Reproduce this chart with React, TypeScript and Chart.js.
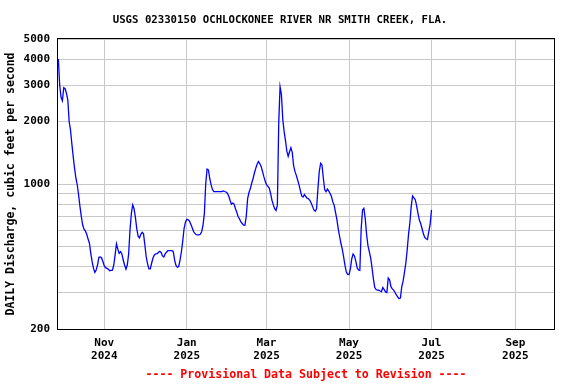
import { useEffect, useRef } from "react";
import { Chart, registerables } from "chart.js";

Chart.register(...registerables);

const TITLE = "USGS 02330150 OCHLOCKONEE RIVER NR SMITH CREEK, FLA.";
const Y_TITLE = "DAILY Discharge, cubic feet per second";
const FOOTER = "---- Provisional Data Subject to Revision ----";

// Day numbers are counted from 2024-11-01 (= 0). First value is 2024-09-28.
const FIRST_DAY = -34;
const dailyFlow = [
  4000, 3000, 2620, 2520, 2910, 2880, 2740, 2540, 2000, 1820,
  1560, 1355, 1190, 1066, 989, 885, 778, 696, 634, 605,
  594, 572, 543, 518, 463, 422, 392, 375, 385, 407,
  443, 445, 440, 422,
  403, 395, 392, 388, 382, 383, 384, 407, 455, 515,
  485, 463, 472, 460, 430, 407, 389, 407, 460, 600,
  720, 793, 760, 690, 610, 560, 550, 572, 585, 575,
  508,
  445, 412, 390, 390, 415, 440, 455, 460, 462, 468,
  474, 468, 450, 445, 460, 469, 477, 477, 477, 477,
  473, 430, 405, 397, 400, 430, 470, 530, 610, 655,
  676, 672, 662, 640, 615, 590, 578, 570, 568, 569,
  572, 589, 634, 720, 1000, 1180, 1170, 1060, 990, 940,
  918, 918, 918, 918, 918, 918, 920, 926, 920, 915,
  903, 875, 835, 800, 810, 800, 760, 730, 695, 680,
  656, 645, 633, 632, 700, 850, 910, 950, 1008, 1060,
  1130, 1190, 1245, 1282, 1255, 1215, 1150, 1085, 1030, 992,
  975, 955, 900, 835, 793, 760, 745, 790, 1960, 2946,
  2700, 2050, 1790, 1620, 1440, 1360, 1430, 1497, 1420, 1230,
  1150, 1100, 1045, 990, 930, 876, 866, 890, 870, 855,
  849, 835, 810, 780, 750, 740, 760, 950, 1150, 1259,
  1236, 1066, 940, 918, 946, 925, 900, 870, 820, 790,
  730, 675, 610, 560, 518, 485, 445, 405, 376, 367,
  366, 390, 435, 460, 450, 425, 395, 385, 383, 612,
  750, 764, 680, 570, 505, 472, 440, 395, 350, 318,
  310, 308, 308, 305, 303, 317, 310, 302, 300, 352,
  345, 320, 312, 308, 300, 292, 286, 280, 282, 320,
  340, 375, 415, 480, 570, 650, 780, 876, 857, 840,
  785, 722, 670, 645, 610, 575, 553, 545, 540, 590,
  640, 750,
];

const tickDays = [0, 61, 120, 181, 242, 304];
const tickMonths = ["Nov", "Jan", "Mar", "May", "Jul", "Sep"];
const tickYears = ["2024", "2025", "2025", "2025", "2025", "2025"];
const X_MIN = -34.25;
const X_MAX = 332.6;

const yGridValues = [200, 300, 400, 500, 600, 700, 800, 900, 1000, 2000, 3000, 4000, 5000];
const yLabelValues = [200, 1000, 2000, 3000, 4000, 5000];

const MONO = '"DejaVu Sans Mono", "Liberation Mono", monospace';

const textPlugin = {
  id: "usgsText",
  afterDraw(chart: any) {
    const { ctx, chartArea } = chart;
    ctx.save();
    // plot frame
    ctx.strokeStyle = "#000000";
    ctx.lineWidth = 1;
    ctx.strokeRect(
      Math.round(chartArea.left) - 0.5,
      Math.round(chartArea.top) - 0.5,
      Math.round(chartArea.right - chartArea.left) + 1,
      Math.round(chartArea.bottom - chartArea.top) + 1
    );
    ctx.textAlign = "center";
    ctx.textBaseline = "middle";
    ctx.fillStyle = "#000000";
    ctx.font = `bold 10.7px ${MONO}`;
    ctx.fillText(TITLE, 280, 20.5);
    ctx.fillStyle = "#ff0000";
    ctx.font = `bold 11.6px ${MONO}`;
    ctx.fillText(FOOTER, (chartArea.left + chartArea.right) / 2, 375);
    ctx.restore();
  },
};

export default function App() {
  const ref = useRef<HTMLCanvasElement | null>(null);

  useEffect(() => {
    document.body.style.margin = "0";
    const canvas = ref.current;
    if (!canvas) return;
    const points = dailyFlow.map((v, i) => ({ x: FIRST_DAY + i, y: v }));
    const chart = new Chart(canvas, {
      type: "line",
      data: {
        datasets: [
          {
            data: points,
            borderColor: "#0000ff",
            borderWidth: 1.3,
            pointRadius: 0,
            tension: 0,
            fill: false,
          },
        ],
      },
      options: {
        responsive: false,
        animation: false,
        maintainAspectRatio: false,
        layout: { padding: { top: 39, right: 22, left: 0, bottom: 0 } },
        plugins: {
          legend: { display: false },
          title: { display: false },
          tooltip: { enabled: false },
        },
        scales: {
          x: {
            type: "linear",
            min: X_MIN,
            max: X_MAX,
            afterBuildTicks: (scale: any) => {
              scale.ticks = tickDays.map((d) => ({ value: d }));
            },
            afterFit: (scale: any) => {
              scale.height = 55;
            },
            grid: { color: "#c8c8c8", lineWidth: 1, drawTicks: false },
            border: { display: false },
            ticks: {
              autoSkip: false,
              maxRotation: 0,
              minRotation: 0,
              padding: 7.7,
              color: "#000000",
              font: { family: MONO, size: 11, weight: "bold", lineHeight: 1.15 },
              callback: (value: any) => {
                const i = tickDays.indexOf(Number(value));
                return i >= 0 ? [tickMonths[i], tickYears[i]] : "";
              },
            },
          },
          y: {
            type: "logarithmic",
            min: 200,
            max: 5000,
            afterBuildTicks: (scale: any) => {
              scale.ticks = yGridValues.map((v) => ({ value: v }));
            },
            afterFit: (scale: any) => {
              scale.width = 58;
            },
            grid: { color: "#c8c8c8", lineWidth: 1, drawTicks: false },
            border: { display: false },
            title: {
              display: true,
              text: Y_TITLE,
              color: "#000000",
              font: { family: MONO, size: 11.5, weight: "bold", lineHeight: 1.2 },
              padding: { top: 4, bottom: 0 },
            },
            ticks: {
              autoSkip: false,
              padding: 8,
              color: "#000000",
              font: { family: MONO, size: 11, weight: "bold" },
              callback: (value: any) =>
                yLabelValues.includes(Number(value)) ? String(value) : "",
            },
          },
        },
      },
      plugins: [textPlugin],
    });
    return () => chart.destroy();
  }, []);

  return <canvas ref={ref} width={576} height={384} style={{ display: "block" }} />;
}
